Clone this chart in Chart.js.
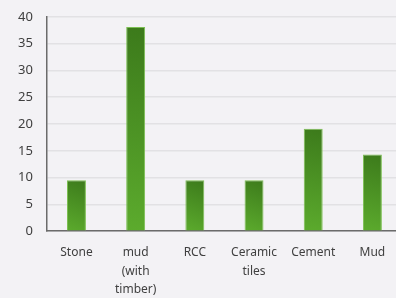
<!DOCTYPE html>
<html>
<head>
<meta charset="utf-8">
<script src="https://cdn.jsdelivr.net/npm/chart.js@4/dist/chart.umd.min.js"></script>
<style>
  html, body { margin: 0; padding: 0; background: #f3f2f5; overflow: hidden; }
  #wrap { position: absolute; left: 0; top: -5px; width: 402px; height: 316px; }
</style>
</head>
<body>
<div id="wrap"><canvas id="chart"></canvas></div>
<script>
const categories = ['Stone', ['mud', '(with', 'timber)'], 'RCC', ['Ceramic', 'tiles'], 'Cement', 'Mud'];
const values = [9.5, 38.1, 9.5, 9.5, 19.1, 14.3];
const yTicks = [0, 5, 10, 15, 20, 25, 30, 35, 40];

// diagonal shading per bar: darker top-right, lighter bottom-left
function barFill(ctx) {
  const chart = ctx.chart;
  if (!chart.chartArea || !chart.scales.x) return '#4e9626';
  const x = chart.scales.x.getPixelForValue(ctx.dataIndex);
  const top = chart.scales.y.getPixelForValue(values[ctx.dataIndex]);
  const base = chart.scales.y.getPixelForValue(0);
  const g = chart.ctx.createLinearGradient(x + 10, top, x - 10, base);
  g.addColorStop(0, '#3c7a1b');
  g.addColorStop(1, '#5cab2d');
  return g;
}

new Chart(document.getElementById('chart'), {
  type: 'bar',
  data: {
    labels: categories,
    datasets: [{
      data: values,
      backgroundColor: barFill,
      borderColor: '#7cbf52',
      borderWidth: 1,
      barPercentage: 0.32,
      categoryPercentage: 1
    }]
  },
  options: {
    responsive: true,
    maintainAspectRatio: false,
    animation: false,
    layout: { padding: { top: 2, right: 0, left: 4, bottom: 0 } },
    plugins: { legend: { display: false }, tooltip: { enabled: false } },
    scales: {
      x: {
        grid: { display: false, drawTicks: false },
        border: { color: '#6b6b6b', width: 1.5 },
        ticks: {
          color: '#404040',
          font: { family: 'Noto Sans', size: 12, lineHeight: 1.55 },
          padding: 12,
          maxRotation: 0,
          autoSkip: false
        }
      },
      y: {
        min: 0,
        max: 40,
        afterBuildTicks: axis => { axis.ticks = yTicks.map(v => ({ value: v })); },
        grid: { color: '#e2e1e4', lineWidth: 1.5, drawTicks: false },
        border: { color: '#6b6b6b', width: 1.5 },
        ticks: {
          color: '#404040',
          font: { family: 'Noto Sans', size: 13 },
          padding: 14
        }
      }
    }
  }
});
</script>
</body>
</html>
